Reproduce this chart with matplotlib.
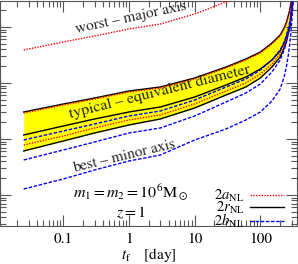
import matplotlib
matplotlib.use("Agg")
import matplotlib.pyplot as plt
from matplotlib.ticker import FixedLocator, FixedFormatter, NullFormatter, LogLocator

plt.rcParams['font.family'] = ['STIXGeneral', 'DejaVu Serif']
plt.rcParams['mathtext.fontset'] = 'stix'

# time before end of observation [day]
t_f = [0.025, 0.1, 0.3, 1, 3, 10, 30, 60, 100, 150, 200,
       230, 250, 265, 280, 290, 300, 310, 320, 330, 340]

# worst case, major axis (leaves the plot early)
t_worst = [0.025, 0.1, 0.3, 1, 3, 10, 30, 60, 100, 150, 200]
a_worst = [38.85, 53.96, 69.07, 92.10, 113.1, 170.7, 279.5, 404.6, 539.6, 781.4, 1086]

# typical case band
r_upper = [3.035, 4.217, 5.397, 7.197, 8.483, 12.28, 19.31, 26.83, 35.78, 51.79, 71.97,
           95.97, 122.8, 157.2, 201.2, 257.5, 343.4, 477.0, 690.7, 1086, 1778]
a_typ = [2.913, 4.047, 5.180, 6.907, 8.141, 11.79, 18.53, 25.75, 34.34, 49.71, 69.07,
         92.10, 117.9, 150.9, 193.1, 247.1, 329.5, 457.8, 662.9, 1042, 1707]
r_typ = [1.179, 1.707, 2.276, 3.035, 3.728, 5.623, 9.210, 12.80, 17.78, 25.75, 37.28,
         51.79, 66.28, 84.83, 108.6, 138.9, 193.1, 268.3, 372.8, 562.3, 848.3]
b_typ = [0.9597, 1.389, 1.853, 2.575, 3.162, 4.971, 8.483, 11.79, 17.07, 25.75, 38.85,
         53.96, 71.97, 92.10, 122.8, 157.2, 218.5, 316.2, 457.9, 690.7, 1042]
a_low = [0.7813, 1.131, 1.572, 2.184, 2.683, 4.217, 7.197, 10.0, 14.48, 21.85, 32.95,
         45.79, 61.05, 78.14, 104.2, 138.9, 193.1, 279.5, 404.6, 610.5, 921.0]
r_lower = [0.6105, 0.9210, 1.280, 1.778, 2.276, 3.578, 6.105, 8.483, 12.28, 19.31, 29.13,
           42.17, 56.23, 74.99, 100.0, 133.4, 193.1, 279.5, 404.6, 610.5, 921.0]
b_low = [0.4217, 0.6361, 0.8839, 1.280, 1.572, 2.575, 4.579, 6.628, 9.597, 15.72, 25.75,
         38.85, 53.96, 74.99, 104.2, 144.8, 218.5, 329.5, 497.1, 781.4, 1280]

# best case, minor axis
b_best = [0.1280, 0.1931, 0.2795, 0.4047, 0.5179, 0.9597, 1.509, 2.184, 3.035, 4.770, 7.813,
          12.80, 20.12, 30.35, 49.71, 74.99, 122.8, 209.6, 357.8, 586.0, 1000]

xticks = [0.1, 1, 10, 100]
xticklabels = ['0.1', '1', '10', '100']

red = '#ff0000'
blue = '#0000ff'
dot = (0, (1, 1))
dash = (0, (2.5, 1.2))

fig = plt.figure(figsize=(2.98, 2.64), dpi=100)
ax = fig.add_axes([0 / 298, 38 / 264, 297 / 298, 225 / 264])
ax.set_xscale('log')
ax.set_yscale('log')

ax.fill_between(t_f, r_lower, r_upper, color='#ffff00', lw=0, zorder=1)

ax.plot(t_worst, a_worst, color=red, ls=dot, lw=1.0, zorder=3)
ax.plot(t_f, a_typ, color=red, ls=dot, lw=1.0, zorder=3, label=r'$2a_{\rm NL}$')
ax.plot(t_f, a_low, color=red, ls=dot, lw=1.0, zorder=3)
ax.plot(t_f, r_upper, color='black', lw=1.0, zorder=2)
ax.plot(t_f, r_typ, color='black', lw=1.0, zorder=2, label=r'$2r_{\rm NL}$')
ax.plot(t_f, r_lower, color='black', lw=1.0, zorder=2)
ax.plot(t_f, b_typ, color=blue, ls=dash, lw=1.0, zorder=3, label=r'$2b_{\rm NL}$')
ax.plot(t_f, b_low, color=blue, ls=dash, lw=1.0, zorder=3)
ax.plot(t_f, b_best, color=blue, ls=dash, lw=1.0, zorder=3)

ax.set_xlim(0.0109, 361)
ax.set_ylim(0.02795, 291.2)

ax.xaxis.set_major_locator(FixedLocator(xticks))
ax.xaxis.set_major_formatter(FixedFormatter(xticklabels))
ax.xaxis.set_minor_locator(LogLocator(base=10, subs=range(2, 10), numticks=20))
ax.xaxis.set_minor_formatter(NullFormatter())
ax.yaxis.set_major_locator(LogLocator(base=10, numticks=20))
ax.yaxis.set_minor_locator(LogLocator(base=10, subs=range(2, 10), numticks=20))
ax.yaxis.set_minor_formatter(NullFormatter())
ax.tick_params(which='both', direction='in', top=True, right=True, labelleft=False,
               color='#555555', width=0.8)
ax.tick_params(which='major', length=8, labelsize=11, pad=5)
ax.tick_params(which='minor', length=4.3)
for s in ax.spines.values():
    s.set_color('#555555')
    s.set_linewidth(0.8)

ax.set_xlabel(r'$t_{\rm f}\quad\;$[day]', fontsize=11, labelpad=0)

ax.text(0.44, 0.928, 'worst – major axis', transform=ax.transAxes, rotation=12,
        rotation_mode='anchor', ha='center', va='center', fontsize=11, color='#222222')
ax.text(0.537, 0.594, 'typical – equivalent diameter', transform=ax.transAxes, rotation=14,
        rotation_mode='anchor', ha='center', va='center', fontsize=11.5, color='#222222')
ax.text(0.418, 0.31, 'best – minor axis', transform=ax.transAxes, rotation=13.5,
        rotation_mode='anchor', ha='center', va='center', fontsize=11, color='#222222')
ax.text(0.441, 0.152, r'$m_1=m_2=10^6{\rm M}_\odot$', transform=ax.transAxes,
        ha='center', va='center', fontsize=11.5)
ax.text(0.44, 0.058, r'$z=1$', transform=ax.transAxes, ha='center', va='center', fontsize=11.5)

ax.legend(loc='lower right', bbox_to_anchor=(0.955, -0.02), frameon=False, markerfirst=False,
          fontsize=10.5, handlelength=2.3, handletextpad=0.4, labelspacing=-0.28,
          borderpad=0, borderaxespad=0)

fig.savefig('out.png', dpi=100)
